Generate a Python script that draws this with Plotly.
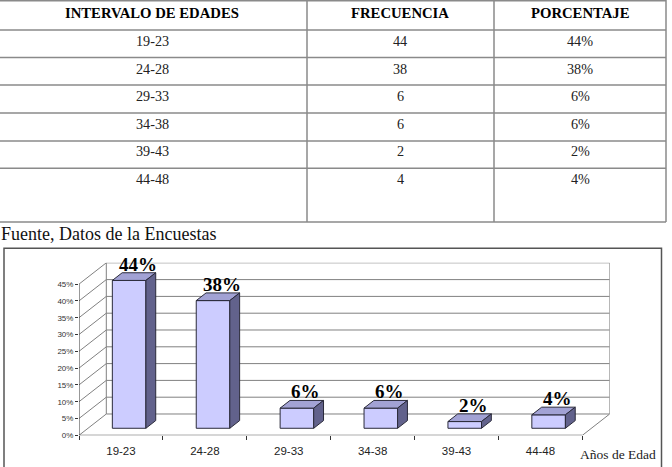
import plotly.graph_objects as go

# ---------------- data ----------------
categories = ["19-23", "24-28", "29-33", "34-38", "39-43", "44-48"]
frequencies = [44, 38, 6, 6, 2, 4]
percentages = [44, 38, 6, 6, 2, 4]
y_ticks = [0, 5, 10, 15, 20, 25, 30, 35, 40, 45]
y_tick_labels = [f"{t}%" for t in y_ticks]
table_headers = ["INTERVALO DE EDADES", "FRECUENCIA", "PORCENTAJE"]
source_note = "Fuente, Datos de la Encuestas"
x_axis_title = "Años de Edad"

# ---------------- geometry / style ----------------
W, H = 672, 467
PX_CAT = 83.9          # pixels per category (front)
PX_PCT = 3.36          # pixels per percent
DX = 27.3 / PX_CAT     # oblique depth offset in category units
DY = 21.3 / PX_PCT     # oblique depth offset in percent units
D0, D1 = 0.33, 0.69    # bar depth span
HALF = 0.2             # bar half width
X0_PX, Y0_PX = 79.0, 435.3
NCAT = len(categories)
YMAX = max(y_ticks)

FRONT = "#CCCCFF"
TOP = "#A2A2D4"
SIDE = "#62628C"
EDGE = "#2a2a3a"
GRID = "#808080"


def P(x, v, d):
    return x + d * DX, v + d * DY


def px(x):
    return x / W


def py(y):
    return 1 - y / H


fig = go.Figure()

# walls / gridlines
gx, gy = [], []
for t in y_ticks:
    gx += [0, DX, NCAT + DX, None]
    gy += [t, t + DY, t + DY, None]
gx += [DX, DX, None, NCAT + DX, NCAT + DX, None, NCAT, NCAT + DX, None]
gy += [DY, YMAX + DY, None, DY, YMAX + DY, None, 0, DY, None]
fig.add_trace(go.Scatter(x=gx, y=gy, mode="lines", line=dict(color=GRID, width=1),
                         hoverinfo="skip", showlegend=False, cliponaxis=False))
# front axis lines
fig.add_trace(go.Scatter(x=[0, 0, None, 0, NCAT], y=[YMAX, 0, None, 0, 0], mode="lines",
                         line=dict(color="#333333", width=1), hoverinfo="skip",
                         showlegend=False, cliponaxis=False))

# 3D bars
for i, v in enumerate(percentages):
    xc = i + 0.49
    xa, xb = xc - HALF, xc + HALF
    faces = [
        ([P(xa, 0, D0), P(xb, 0, D0), P(xb, v, D0), P(xa, v, D0)], FRONT),
        ([P(xa, v, D0), P(xb, v, D0), P(xb, v, D1), P(xa, v, D1)], TOP),
        ([P(xb, 0, D0), P(xb, 0, D1), P(xb, v, D1), P(xb, v, D0)], SIDE),
    ]
    for pts, col in faces:
        xs = [p[0] for p in pts] + [pts[0][0]]
        ys = [p[1] for p in pts] + [pts[0][1]]
        fig.add_trace(go.Scatter(x=xs, y=ys, mode="lines", fill="toself", fillcolor=col,
                                 line=dict(color=EDGE, width=1), hoverinfo="skip",
                                 showlegend=False, cliponaxis=False))
    fig.add_annotation(x=xc + 0.65 * DX, y=v + D1 * DY, xref="x", yref="y",
                       text=f"<b>{v}%</b>", showarrow=False, yanchor="bottom", yshift=-4,
                       font=dict(family="Liberation Serif", size=19, color="#000000"))

# axes
x_end = NCAT + DX
fig.update_layout(
    width=W, height=H,
    margin=dict(l=0, r=0, t=0, b=0),
    paper_bgcolor="white", plot_bgcolor="rgba(0,0,0,0)",
    showlegend=False,
    xaxis=dict(
        domain=[px(X0_PX), px(X0_PX + x_end * PX_CAT)],
        range=[0, x_end],
        tickmode="array",
        tickvals=[i + 0.5 for i in range(NCAT)],
        ticktext=categories,
        ticks="", showgrid=False, zeroline=False, showline=False,
        tickfont=dict(family="Liberation Sans", size=11.5, color="#222222"),
        ticklabelstandoff=7,
        automargin=False,
        minor=dict(ticks="outside", tick0=0, dtick=1, ticklen=4, tickcolor="#333333",
                   showgrid=False),
    ),
    yaxis=dict(
        domain=[py(Y0_PX), py(Y0_PX - (YMAX + DY) * PX_PCT)],
        range=[0, YMAX + DY],
        tickmode="array",
        tickvals=y_ticks,
        ticktext=y_tick_labels,
        ticks="outside", ticklen=3, tickcolor="#333333",
        showgrid=False, zeroline=False, showline=False,
        automargin=False,
        tickfont=dict(family="Liberation Sans", size=8, color="#333333"),
    ),
)

# chart frame
fig.add_shape(type="rect", xref="paper", yref="paper",
              x0=px(4), x1=px(661.5), y0=py(520), y1=py(248.3),
              line=dict(color="#555555", width=1.5), layer="below")

fig.add_annotation(text=x_axis_title, xref="paper", yref="paper", x=px(578), y=py(454),
                   xanchor="left", yanchor="middle", showarrow=False,
                   font=dict(family="Liberation Serif", size=13.5, color="#222222"))

# ---------------- table ----------------
row_lines = [0.7, 30, 57.5, 85, 113, 141, 168.3, 222]
col_lines = [307, 494, 666]
col_centers = [152, 400, 580]
header_y = 13.5
row_centers = [41, 68.5, 96, 123.5, 151, 178.5]
TBL = "#8a8a8a"
for yl in row_lines:
    fig.add_shape(type="line", xref="paper", yref="paper", x0=px(-5), x1=px(666),
                  y0=py(yl), y1=py(yl), line=dict(color=TBL, width=1.5))
for xl in col_lines:
    fig.add_shape(type="line", xref="paper", yref="paper", x0=px(xl), x1=px(xl),
                  y0=py(0), y1=py(222), line=dict(color=TBL, width=1.5))

for c, h in enumerate(table_headers):
    fig.add_annotation(text=f"<b>{h}</b>", xref="paper", yref="paper",
                       x=px(col_centers[c]), y=py(header_y), showarrow=False,
                       xanchor="center", yanchor="middle",
                       font=dict(family="Liberation Serif", size=14.7, color="#000000"))
for r in range(NCAT):
    cells = [categories[r], str(frequencies[r]), f"{percentages[r]}%"]
    for c, txt in enumerate(cells):
        fig.add_annotation(text=txt, xref="paper", yref="paper",
                           x=px(col_centers[c]), y=py(row_centers[r]), showarrow=False,
                           xanchor="center", yanchor="middle",
                           font=dict(family="Liberation Serif", size=14.2, color="#222222"))

fig.add_annotation(text=source_note, xref="paper", yref="paper", x=px(-1), y=py(234),
                   xanchor="left", yanchor="middle", showarrow=False,
                   font=dict(family="Liberation Serif", size=18, color="#111111"))

fig.write_html("out.html")
